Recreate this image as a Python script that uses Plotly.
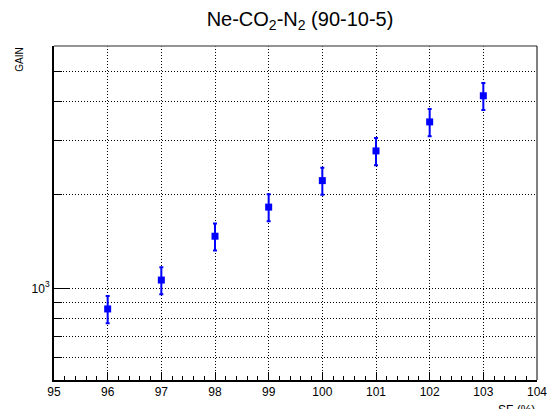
import plotly.graph_objects as go

sf = [96, 97, 98, 99, 100, 101, 102, 103]
gain = [858, 1063, 1472, 1827, 2224, 2773, 3439, 4175]
gain_err = [86, 107, 147, 183, 222, 278, 345, 418]

x_ticks = [95, 96, 97, 98, 99, 100, 101, 102, 103, 104]
y_major = [1000]
y_major_text = ["10<sup>3</sup>"]
y_minor = [600, 700, 800, 900, 2000, 3000, 4000, 5000]

FONT = "Liberation Sans, Arial, Helvetica, sans-serif"
DOT = "1px,2px"

fig = go.Figure()
fig.add_trace(go.Scatter(
    x=sf, y=gain, mode="markers",
    marker=dict(symbol="square", size=7, color="#0000ff", line=dict(width=0)),
    error_y=dict(type="data", array=gain_err, visible=True,
                 color="#0000ff", thickness=2, width=2),
    showlegend=False,
))

fig.update_layout(
    width=555, height=409,
    margin=dict(l=54, r=8, t=46, b=29, pad=0),
    paper_bgcolor="white", plot_bgcolor="white",
    font=dict(family=FONT, color="black", size=12),
    title=dict(text="Ne-CO<sub>2</sub>-N<sub>2</sub> (90-10-5)",
               x=300/555, xanchor="center", xref="container",
               y=1 - 19/409, yanchor="middle", yref="container",
               font=dict(size=20, family=FONT, color="black")),
    xaxis=dict(range=[95, 104], tickmode="array", tickvals=x_ticks,
               ticktext=[str(v) for v in x_ticks],
               ticks="inside", ticklen=8, tickwidth=1, tickcolor="black",
               minor=dict(dtick=0.2, tick0=95, ticks="inside", ticklen=4,
                          tickcolor="black", showgrid=False),
               showgrid=True, gridcolor="black", gridwidth=1, griddash=DOT,
               showline=True, linecolor="black", linewidth=2, mirror=False,
               zeroline=False, ticklabeloverflow="allow",
               tickfont=dict(size=12, family=FONT)),
    yaxis=dict(type="log", range=[2.7044, 3.7811],
               tickmode="array", tickvals=y_major, ticktext=y_major_text,
               ticks="inside", ticklen=15, tickwidth=1, tickcolor="black",
               minor=dict(tickmode="array", tickvals=y_minor, ticks="inside",
                          ticklen=8, tickcolor="black", showgrid=True,
                          gridcolor="black", gridwidth=1, griddash=DOT),
               showgrid=True, gridcolor="black", gridwidth=1, griddash=DOT,
               showline=True, linecolor="black", linewidth=2, mirror=False,
               zeroline=False, tickfont=dict(size=12, family=FONT)),
    shapes=[
        dict(type="line", xref="paper", yref="paper", x0=0, x1=1, y0=1, y1=1,
             line=dict(color="#707070", width=1.5), layer="above"),
        dict(type="line", xref="paper", yref="paper", x0=1, x1=1, y0=0, y1=1,
             line=dict(color="black", width=1), layer="above"),
    ],
    annotations=[
        dict(text="SF (%)", xref="paper", yref="paper", x=1, y=-21/334,
             xanchor="right", yanchor="top", showarrow=False,
             font=dict(size=12, family=FONT)),
        dict(text="GAIN", xref="paper", yref="paper", x=-36/493, y=1,
             xanchor="center", yanchor="top", textangle=-90, showarrow=False,
             font=dict(size=10, family=FONT)),
    ],
)

fig.write_html("out.html", config=dict(displayModeBar=False),
               post_script="document.body.style.margin='0';document.body.style.overflow='hidden';")
